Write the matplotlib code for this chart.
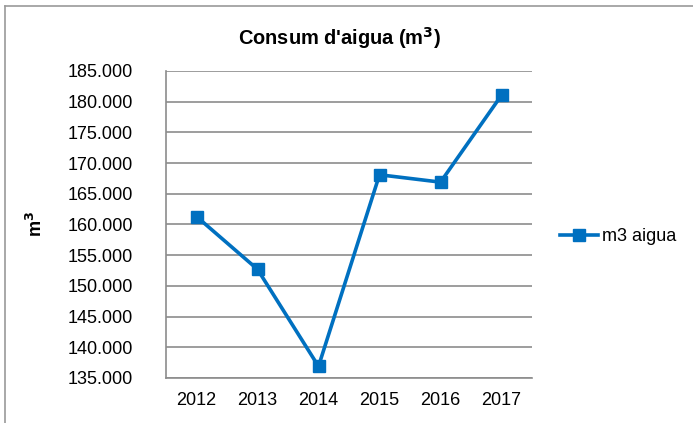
import matplotlib.pyplot as plt
from matplotlib.lines import Line2D
from matplotlib.ticker import FuncFormatter

plt.rcParams['font.family'] = ['Liberation Sans', 'DejaVu Sans']

# Data
years = ['2012', '2013', '2014', '2015', '2016', '2017']
consum = [161300, 152700, 136900, 168100, 166900, 181050]

blue = '#0070C0'
grid_grey = '#8c8c8c'
fs = 13

fig = plt.figure(figsize=(6.93, 4.23), dpi=100)
ax = fig.add_axes([166 / 693, 1 - 378 / 423, 366 / 693, 307 / 423])

x = range(len(years))
ax.plot(x, consum, color=blue, linewidth=2.6, marker='s', markersize=8.5,
        label='m3 aigua', zorder=5)

ax.set_xlim(-0.5, len(years) - 0.5)
ax.set_ylim(135000, 185000)
ax.set_yticks(range(135000, 185001, 5000))
ax.yaxis.set_major_formatter(FuncFormatter(lambda v, p: f'{int(v):,}'.replace(',', '.')))
ax.set_xticks(list(x))
ax.set_xticklabels(years)

ax.grid(axis='y', color=grid_grey, linewidth=1.2)
ax.set_axisbelow(True)
for s in ['top', 'right']:
    ax.spines[s].set_visible(False)
for s in ['left', 'bottom']:
    ax.spines[s].set_color(grid_grey)
    ax.spines[s].set_linewidth(1.2)

ax.tick_params(axis='y', length=0, pad=24, labelsize=fs)
ax.tick_params(axis='x', length=0, pad=10, labelsize=fs)

ax.set_ylabel('m$^\\mathbf{3}$', fontsize=fs, fontweight='bold', labelpad=0)
ax.yaxis.set_label_coords(-(166 - 46) / 366, 0.5)

fig.text(339 / 693, 1 - 38 / 423, "Consum d'aigua (m$^\\mathbf{3}$)",
         fontsize=14.4, fontweight='bold', ha='center', va='center')

ax.legend(loc='center left', bbox_to_anchor=((560 - 166) / 366, 0.46),
          frameon=False, fontsize=fs, handlelength=2.1, handletextpad=0.2,
          borderaxespad=0, borderpad=0)

# outer chart border (only top and left edges fall inside the image)
fig.add_artist(Line2D([5 / 693, 5 / 693], [0, 1 - 6 / 423], transform=fig.transFigure,
                      color='#9a9a9a', linewidth=1.2))
fig.add_artist(Line2D([5 / 693, 1], [1 - 6 / 423, 1 - 6 / 423], transform=fig.transFigure,
                      color='#9a9a9a', linewidth=1.2))

fig.savefig('out.png', dpi=100, facecolor='white')
